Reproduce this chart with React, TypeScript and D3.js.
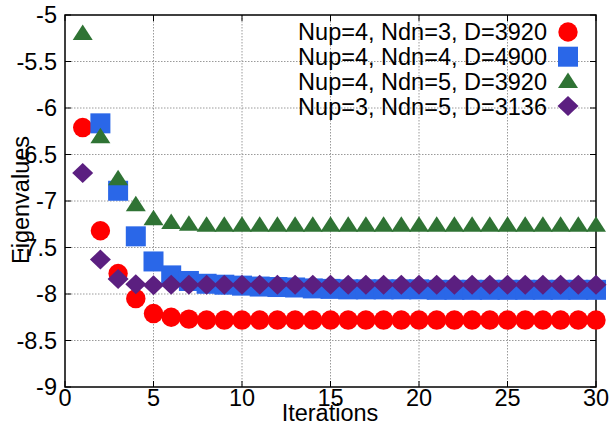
import React from "react";
import * as d3 from "d3";

const seriesNames = [
  "Nup=4, Ndn=3, D=3920",
  "Nup=4, Ndn=4, D=4900",
  "Nup=4, Ndn=5, D=3920",
  "Nup=3, Ndn=5, D=3136",
];
const seriesColors = ["#ff0000", "#2a67e8", "#2f7334", "#5b1f80"];
const seriesShapes = ["circle", "square", "triangle", "diamond"];

const redX = [1, 2, 3, 4, 5, 6, 7, 8, 9, 10, 11, 12, 13, 14, 15, 16, 17, 18, 19, 20, 21, 22, 23, 24, 25, 26, 27, 28, 29, 30];
const redY = [-6.21, -7.32, -7.78, -8.05, -8.21, -8.25, -8.27, -8.28, -8.28, -8.28, -8.28, -8.28, -8.28, -8.28, -8.28, -8.28, -8.28, -8.28, -8.28, -8.28, -8.28, -8.28, -8.28, -8.28, -8.28, -8.28, -8.28, -8.28, -8.28, -8.28];

const blueX = [2, 3, 4, 5, 6, 7, 8, 9, 10, 11, 12, 13, 14, 15, 16, 17, 18, 19, 20, 21, 22, 23, 24, 25, 26, 27, 28, 29, 30];
const blueY = [-6.165, -6.89, -7.38, -7.65, -7.8, -7.86, -7.89, -7.9, -7.91, -7.92, -7.925, -7.93, -7.94, -7.945, -7.95, -7.95, -7.95, -7.95, -7.95, -7.955, -7.955, -7.955, -7.955, -7.955, -7.955, -7.955, -7.955, -7.955, -7.955];

const greenX = [1, 2, 3, 4, 5, 6, 7, 8, 9, 10, 11, 12, 13, 14, 15, 16, 17, 18, 19, 20, 21, 22, 23, 24, 25, 26, 27, 28, 29, 30];
const greenY = [-5.2, -6.31, -6.76, -7.04, -7.19, -7.23, -7.25, -7.26, -7.26, -7.26, -7.26, -7.26, -7.26, -7.26, -7.26, -7.26, -7.26, -7.26, -7.26, -7.26, -7.26, -7.26, -7.26, -7.26, -7.26, -7.26, -7.26, -7.26, -7.26, -7.26];

const purpleX = [1, 2, 3, 4, 5, 6, 7, 8, 9, 10, 11, 12, 13, 14, 15, 16, 17, 18, 19, 20, 21, 22, 23, 24, 25, 26, 27, 28, 29, 30];
const purpleY = [-6.7, -7.63, -7.84, -7.895, -7.905, -7.9, -7.9, -7.9, -7.9, -7.9, -7.9, -7.9, -7.9, -7.9, -7.9, -7.9, -7.9, -7.9, -7.9, -7.9, -7.9, -7.9, -7.9, -7.9, -7.9, -7.9, -7.9, -7.9, -7.9, -7.9];

const xTicks = [0, 5, 10, 15, 20, 25, 30];
const yTicks = [-5, -5.5, -6, -6.5, -7, -7.5, -8, -8.5, -9];

const seriesX = [redX, blueX, greenX, purpleX];
const seriesY = [redY, blueY, greenY, purpleY];

const FONT = "'Liberation Sans', Arial, Helvetica, sans-serif";

function Marker({ shape, x, y, color }: { shape: string; x: number; y: number; color: string }) {
  if (shape === "circle") return <circle cx={x} cy={y} r={9.7} fill={color} />;
  if (shape === "square") return <rect x={x - 10} y={y - 10} width={20} height={20} fill={color} />;
  if (shape === "triangle") {
    const pts = `${x},${y - 9} ${x + 10},${y + 6.5} ${x - 10},${y + 6.5}`;
    return <polygon points={pts} fill={color} />;
  }
  const pts = `${x},${y - 10} ${x + 10.5},${y} ${x},${y + 10} ${x - 10.5},${y}`;
  return <polygon points={pts} fill={color} />;
}

export default function App() {
  const W = 613, H = 425;
  const left = 65, right = 596, top = 15, bottom = 387;
  const x = d3.scaleLinear().domain([0, 30]).range([left, right]);
  const y = d3.scaleLinear().domain([-9, -5]).range([bottom, top]);
  const fs = 23.5;

  return (
    <svg width={W} height={H} style={{ position: "absolute", left: 0, top: 0, background: "#fff" }} fontFamily={FONT}>
      <rect x={0} y={0} width={W} height={H} fill="#fff" />
      {/* grid */}
      {xTicks.filter((t) => t > 0 && t < 30).map((t) => (
        <line key={"gx" + t} x1={x(t)} x2={x(t)} y1={top} y2={bottom} stroke="#9a9a9a" strokeWidth={1} strokeDasharray="1.5,1.5" />
      ))}
      {yTicks.filter((t) => t > -9 && t < -5).map((t) => (
        <line key={"gy" + t} x1={left} x2={right} y1={y(t)} y2={y(t)} stroke="#9a9a9a" strokeWidth={1} strokeDasharray="1.5,1.5" />
      ))}
      {/* ticks */}
      {xTicks.map((t) => (
        <g key={"tx" + t}>
          <line x1={x(t)} x2={x(t)} y1={bottom} y2={bottom - 6} stroke="#000" />
          <line x1={x(t)} x2={x(t)} y1={top} y2={top + 6} stroke="#000" />
          <text x={x(t)} y={406} textAnchor="middle" fontSize={fs} fill="#000">{t}</text>
        </g>
      ))}
      {yTicks.map((t) => (
        <g key={"ty" + t}>
          <line x1={left} x2={left + 6} y1={y(t)} y2={y(t)} stroke="#000" />
          <line x1={right} x2={right - 6} y1={y(t)} y2={y(t)} stroke="#000" />
          <text x={57} y={y(t)} dy="0.36em" textAnchor="end" fontSize={fs} fill="#000">{t}</text>
        </g>
      ))}
      {/* frame */}
      <rect x={left} y={top} width={right - left} height={bottom - top} fill="none" stroke="#000" strokeWidth={1.5} />
      {/* axis labels */}
      <text x={330} y={421} textAnchor="middle" fontSize={fs} fill="#000">Iterations</text>
      <text transform="translate(29,200) rotate(-90)" textAnchor="middle" fontSize={fs} fill="#000">Eigenvalues</text>
      {/* data */}
      {seriesNames.map((name, si) => (
        <g key={name}>
          {seriesX[si].map((xv, i) => (
            <Marker key={i} shape={seriesShapes[si]} x={x(xv)} y={y(seriesY[si][i])} color={seriesColors[si]} />
          ))}
        </g>
      ))}
      {/* legend */}
      {seriesNames.map((name, si) => {
        const ly = 32 + si * 24.7;
        return (
          <g key={"lg" + si}>
            <text x={547} y={ly} dy="0.36em" textAnchor="end" fontSize={fs} fill="#000">{name}</text>
            <Marker shape={seriesShapes[si]} x={568} y={ly} color={seriesColors[si]} />
          </g>
        );
      })}
    </svg>
  );
}
